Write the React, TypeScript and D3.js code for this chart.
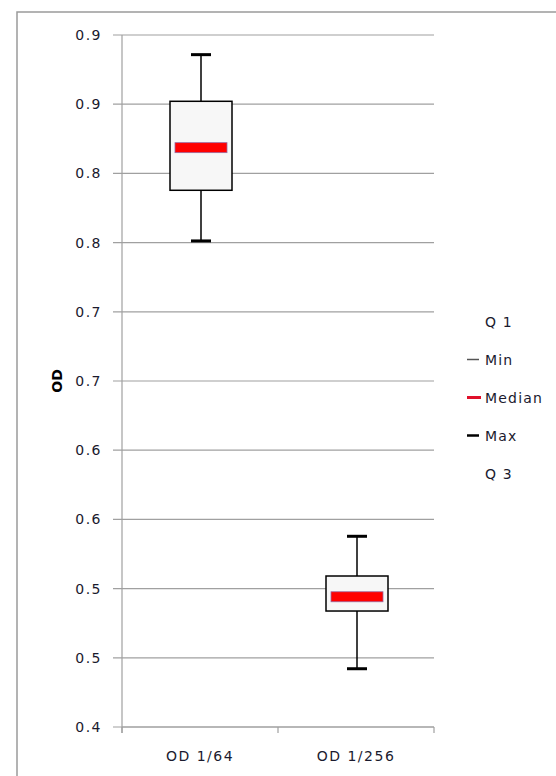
import React from "react";
import * as d3 from "d3";

const categories = ["OD 1/64", "OD 1/256"];
const minValues = [0.7512, 0.4421];
const q1Values = [0.7878, 0.4838];
const medianValues = [0.8186, 0.4941];
const q3Values = [0.8521, 0.5091];
const maxValues = [0.8858, 0.5378];
const yTickValues = [0.4, 0.45, 0.5, 0.55, 0.6, 0.65, 0.7, 0.75, 0.8, 0.85, 0.9];
const yTickLabels = ["0.4", "0.5", "0.5", "0.6", "0.6", "0.7", "0.7", "0.8", "0.8", "0.9", "0.9"];
const legendLabels = ["Q 1", "Min", "Median", "Max", "Q 3"];

const FONT = "'DejaVu Sans', sans-serif";
const TEXT = "#1a1a2e";

export default function App() {
  const left = 122, right = 434, top = 35, bottom = 727;
  const y = d3.scaleLinear().domain([0.4, 0.9]).range([bottom, top]);
  const x = d3.scaleBand().domain(categories).range([left, right]);
  const boxW = 62, capW = 20, medW = 52;

  return (
    <svg width={556} height={776} style={{ position: "absolute", left: 0, top: 0, background: "#fff" }}>
      <rect x={17} y={12} width={600} height={800} fill="none" stroke="#9a9a9a" strokeWidth={1.5} />
      {yTickValues.map((v, i) => (
        <g key={i}>
          <line x1={113} x2={right} y1={y(v)} y2={y(v)} stroke="#a0a0a0" strokeWidth={1.2} />
          <text x={102} y={y(v)} dy="0.36em" textAnchor="end" fontFamily={FONT} fontSize={14} letterSpacing={1.5} fill={TEXT}>
            {yTickLabels[i]}
          </text>
        </g>
      ))}
      <line x1={left} x2={left} y1={top} y2={bottom + 6} stroke="#a0a0a0" strokeWidth={1.2} />
      <line x1={left} x2={right} y1={bottom} y2={bottom} stroke="#a0a0a0" strokeWidth={1.2} />
      {[...categories.map((c) => x(c) as number), right].map((t, i) => (
        <line key={i} x1={t} x2={t} y1={bottom} y2={bottom + 6} stroke="#a0a0a0" strokeWidth={1.2} />
      ))}
      {categories.map((c) => (
        <text key={c} x={(x(c) as number) + x.bandwidth() / 2} y={761} textAnchor="middle" fontFamily={FONT} fontSize={14} letterSpacing={1.5} fill={TEXT}>
          {c}
        </text>
      ))}
      <text transform="translate(62,381) rotate(-90)" textAnchor="middle" fontFamily={FONT} fontSize={14} fontWeight="bold" fill="#000">
        OD
      </text>
      {categories.map((c, i) => {
        const cx = (x(c) as number) + x.bandwidth() / 2 + 1;
        return (
          <g key={c}>
            <line x1={cx} x2={cx} y1={y(maxValues[i])} y2={y(minValues[i])} stroke="#000" strokeWidth={1.5} />
            <rect x={cx - boxW / 2} y={y(q3Values[i])} width={boxW} height={y(q1Values[i]) - y(q3Values[i])} fill="#f7f7f7" stroke="#000" strokeWidth={1.5} />
            <line x1={cx - capW / 2} x2={cx + capW / 2} y1={y(maxValues[i])} y2={y(maxValues[i])} stroke="#000" strokeWidth={3} />
            <line x1={cx - capW / 2} x2={cx + capW / 2} y1={y(minValues[i])} y2={y(minValues[i])} stroke="#000" strokeWidth={3} />
            <rect x={cx - medW / 2} y={y(medianValues[i]) - 5} width={medW} height={10} fill="#ff0000" stroke="#9a6aa0" strokeWidth={0.8} />
          </g>
        );
      })}
      {legendLabels.map((l, i) => {
        const ly = 321.5 + i * 38;
        return (
          <g key={l}>
            {i === 1 && <line x1={467} x2={479} y1={ly} y2={ly} stroke="#555" strokeWidth={1.5} />}
            {i === 2 && <line x1={467} x2={481} y1={ly} y2={ly} stroke="#e0102a" strokeWidth={3} />}
            {i === 3 && <line x1={467} x2={479} y1={ly} y2={ly} stroke="#000" strokeWidth={2.5} />}
            <text x={485} y={ly} dy="0.36em" fontFamily={FONT} fontSize={14} letterSpacing={1.2} fill={TEXT}>
              {l}
            </text>
          </g>
        );
      })}
    </svg>
  );
}
